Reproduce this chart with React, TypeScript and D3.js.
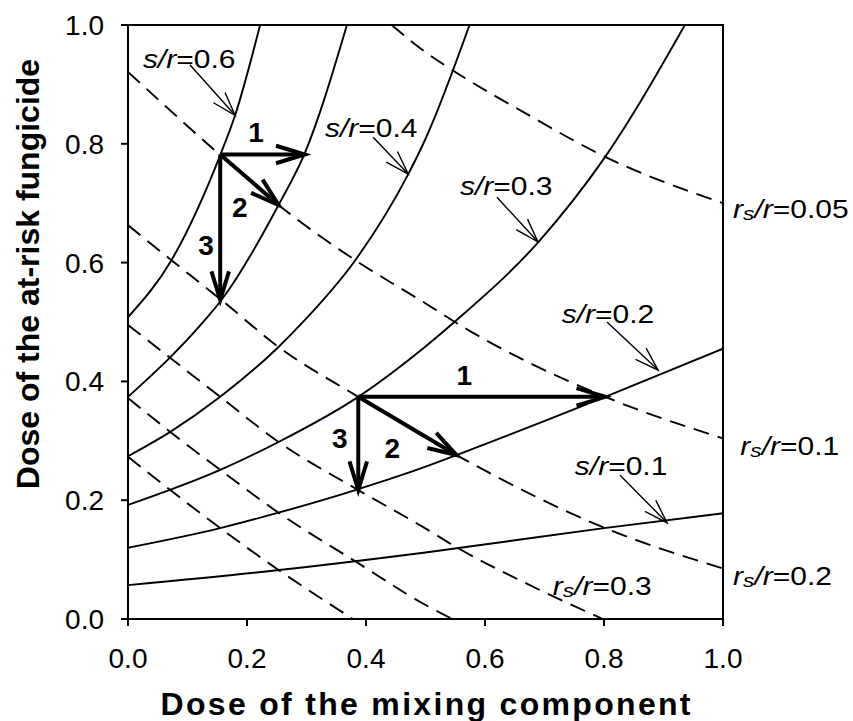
import * as d3 from "d3";

type Pt = [number, number];

const xTicks = [0, 0.2, 0.4, 0.6, 0.8, 1.0];
const yTicks = [0, 0.2, 0.4, 0.6, 0.8, 1.0];

// s/r contours (solid) as [mixing dose, at-risk dose]
const sr01: Pt[] = [[0, 0.057], [0.25, 0.082], [0.5, 0.112], [0.8, 0.153], [1, 0.178]];
const sr02: Pt[] = [[0, 0.12], [0.155, 0.153], [0.253, 0.179], [0.382, 0.217], [0.499, 0.256], [0.552, 0.276], [0.802, 0.374], [1, 0.455]];
const sr03: Pt[] = [[0, 0.192], [0.155, 0.251], [0.253, 0.298], [0.387, 0.374], [0.499, 0.458], [0.552, 0.503], [0.69, 0.635], [0.802, 0.778], [0.936, 1]];
const sr04: Pt[] = [[0, 0.274], [0.071, 0.315], [0.155, 0.374], [0.253, 0.458], [0.297, 0.503], [0.382, 0.604], [0.471, 0.749], [0.499, 0.806], [0.574, 1]];
const sr05: Pt[] = [[0, 0.374], [0.129, 0.503], [0.157, 0.537], [0.253, 0.697], [0.297, 0.784], [0.368, 1]];
const sr06: Pt[] = [[0, 0.508], [0.073, 0.604], [0.155, 0.781], [0.18, 0.848], [0.222, 1]];

// rs/r contours (dashed)
const rs005: Pt[] = [[0.443, 1], [0.499, 0.955], [0.55, 0.921], [0.667, 0.852], [0.802, 0.778], [1, 0.7]];
const rs01: Pt[] = [[0, 0.921], [0.155, 0.781], [0.253, 0.697], [0.382, 0.604], [0.499, 0.532], [0.566, 0.49], [0.802, 0.374], [1, 0.304]];
const rs02: Pt[] = [[0, 0.663], [0.073, 0.604], [0.157, 0.537], [0.253, 0.458], [0.387, 0.374], [0.552, 0.276], [0.802, 0.153], [1, 0.085]];
const rs03: Pt[] = [[0, 0.495], [0.155, 0.374], [0.253, 0.298], [0.387, 0.217], [0.499, 0.153], [0.55, 0.122], [0.667, 0.061], [0.798, 0]];
const rs04: Pt[] = [[0, 0.372], [0.071, 0.315], [0.155, 0.251], [0.253, 0.179], [0.387, 0.094], [0.494, 0.027], [0.545, 0]];
const rs05: Pt[] = [[0, 0.273], [0.155, 0.153], [0.253, 0.0825], [0.378, 0]];

const solidCurves = [sr01, sr02, sr03, sr04, sr05, sr06];
const dashedCurves = [rs005, rs01, rs02, rs03, rs04, rs05];

// labelled contour values
const srLabels = ["0.6", "0.4", "0.3", "0.2", "0.1"];
const rsLabels = ["0.05", "0.1", "0.2", "0.3"];

// the two sets of strategy arrows: origin, then ends of 1, 2, 3
const upperArrows: Pt[] = [[0.155, 0.782], [0.297, 0.782], [0.253, 0.697], [0.155, 0.537]];
const lowerArrows: Pt[] = [[0.387, 0.374], [0.802, 0.374], [0.552, 0.276], [0.387, 0.217]];

// layout of annotations (data units)
const srLabelPos: Pt[] = [[0.025, 0.928], [0.331, 0.811], [0.558, 0.714], [0.729, 0.498], [0.751, 0.242]];
const srPointer: [Pt, Pt][] = [
  [[0.104, 0.933], [0.18, 0.848]],
  [[0.412, 0.811], [0.471, 0.749]],
  [[0.62, 0.71], [0.689, 0.635]],
  [[0.805, 0.5], [0.891, 0.419]],
  [[0.827, 0.242], [0.906, 0.162]],
];
const rsLabelPos: Pt[] = [[1.017, 0.675], [1.029, 0.276], [1.017, 0.057], [0.714, 0.04]];
const upperNums: Pt[] = [[0.215, 0.803], [0.188, 0.677], [0.131, 0.613]];
const lowerNums: Pt[] = [[0.565, 0.394], [0.444, 0.271], [0.356, 0.288]];

const W = 853;
const H = 721;
const plot = { left: 128, right: 723, top: 25, bottom: 619 };
const FONT = "Arial, 'Liberation Sans', sans-serif";

const x = d3.scaleLinear().domain([0, 1]).range([plot.left, plot.right]);
const y = d3.scaleLinear().domain([0, 1]).range([plot.bottom, plot.top]);

const line = d3
  .line<Pt>()
  .x((d) => x(d[0]))
  .y((d) => y(d[1]))
  .curve(d3.curveMonotoneX);

const headPath = (from: Pt, to: Pt, len: number, angDeg: number) => {
  const x0 = x(from[0]), y0 = y(from[1]);
  const x1 = x(to[0]), y1 = y(to[1]);
  const a = Math.atan2(y1 - y0, x1 - x0);
  const t = (angDeg * Math.PI) / 180;
  const p1 = [x1 - len * Math.cos(a - t), y1 - len * Math.sin(a - t)];
  const p2 = [x1 - len * Math.cos(a + t), y1 - len * Math.sin(a + t)];
  return `M${p1[0]},${p1[1]}L${x1},${y1}L${p2[0]},${p2[1]}`;
};

const ArrowSet = ({ pts, nums }: { pts: Pt[]; nums: Pt[] }) => {
  const o = pts[0];
  return (
    <g stroke="#000" fill="none">
      {pts.slice(1).map((p, i) => (
        <g key={i}>
          <line x1={x(o[0])} y1={y(o[1])} x2={x(p[0])} y2={y(p[1])} strokeWidth={4} />
          <path d={headPath(o, p, 30, 17)} strokeWidth={4} strokeLinejoin="miter" />
        </g>
      ))}
      {nums.map((n, i) => (
        <text
          key={"n" + i}
          x={x(n[0])}
          y={y(n[1])}
          textAnchor="middle"
          fontSize={28}
          fontWeight="bold"
          fill="#000"
          stroke="none"
        >
          {i + 1}
        </text>
      ))}
    </g>
  );
};

const SrLabel = ({ at, value }: { at: Pt; value: string }) => (
  <g transform={`translate(${x(at[0])},${y(at[1])}) scale(1.2,1)`}>
    <text fontSize={25} fill="#000">
      <tspan fontStyle="italic">s/r</tspan>
      <tspan>={value}</tspan>
    </text>
  </g>
);

const RsLabel = ({ at, value }: { at: Pt; value: string }) => (
  <g transform={`translate(${x(at[0])},${y(at[1])}) scale(1.2,1)`}>
    <text fontSize={25} fill="#000">
      <tspan fontStyle="italic">r</tspan>
      <tspan fontStyle="italic" fontSize={19} dy={2}>s</tspan>
      <tspan fontStyle="italic" dy={-2}>/r</tspan>
      <tspan>={value}</tspan>
    </text>
  </g>
);

export default function App() {
  return (
    <svg
      width={W}
      height={H}
      style={{ position: "absolute", left: 0, top: 0, background: "#fff" }}
      fontFamily={FONT}
    >
      <defs>
        <clipPath id="plotClip">
          <rect x={plot.left} y={plot.top} width={plot.right - plot.left} height={plot.bottom - plot.top} />
        </clipPath>
      </defs>

      <g clipPath="url(#plotClip)" fill="none" stroke="#000">
        {solidCurves.map((c, i) => (
          <path key={"s" + i} d={line(c) ?? ""} strokeWidth={1.9} />
        ))}
        {dashedCurves.map((c, i) => (
          <path key={"d" + i} d={line(c) ?? ""} strokeWidth={1.9} strokeDasharray="16,9" />
        ))}
      </g>

      {/* frame */}
      <rect
        x={plot.left}
        y={plot.top}
        width={plot.right - plot.left}
        height={plot.bottom - plot.top}
        fill="none"
        stroke="#000"
        strokeWidth={2}
      />
      {yTicks.map((t) => (
        <g key={"y" + t}>
          <line x1={plot.left - 7} x2={plot.left} y1={y(t)} y2={y(t)} stroke="#000" strokeWidth={2} />
          <text x={plot.left - 24} y={y(t)} dy="0.36em" textAnchor="end" fontSize={28}>
            {t.toFixed(1)}
          </text>
        </g>
      ))}
      {xTicks.map((t) => (
        <g key={"x" + t}>
          <line x1={x(t)} x2={x(t)} y1={plot.bottom} y2={plot.bottom + 7} stroke="#000" strokeWidth={2} />
          <text x={x(t)} y={668} textAnchor="middle" fontSize={28}>
            {t.toFixed(1)}
          </text>
        </g>
      ))}

      <text
        x={(plot.left + plot.right) / 2}
        y={715}
        textAnchor="middle"
        fontSize={32}
        fontWeight="bold"
        textLength={530}
        lengthAdjust="spacing"
      >
        Dose of the mixing component
      </text>
      <text transform="translate(39,274) rotate(-90)" textAnchor="middle" fontSize={32} fontWeight="bold">
        Dose of the at-risk fungicide
      </text>

      {/* strategy arrows */}
      <ArrowSet pts={upperArrows} nums={upperNums} />
      <ArrowSet pts={lowerArrows} nums={lowerNums} />

      {/* contour labels */}
      {srLabels.map((v, i) => (
        <g key={"sl" + i}>
          <SrLabel at={srLabelPos[i]} value={v} />
          <line
            x1={x(srPointer[i][0][0])}
            y1={y(srPointer[i][0][1])}
            x2={x(srPointer[i][1][0])}
            y2={y(srPointer[i][1][1])}
            stroke="#000"
            strokeWidth={1.4}
          />
          <path d={headPath(srPointer[i][0], srPointer[i][1], 25, 18)} stroke="#000" strokeWidth={1.4} fill="none" />
        </g>
      ))}
      {rsLabels.map((v, i) => (
        <RsLabel key={"rl" + i} at={rsLabelPos[i]} value={v} />
      ))}
    </svg>
  );
}
